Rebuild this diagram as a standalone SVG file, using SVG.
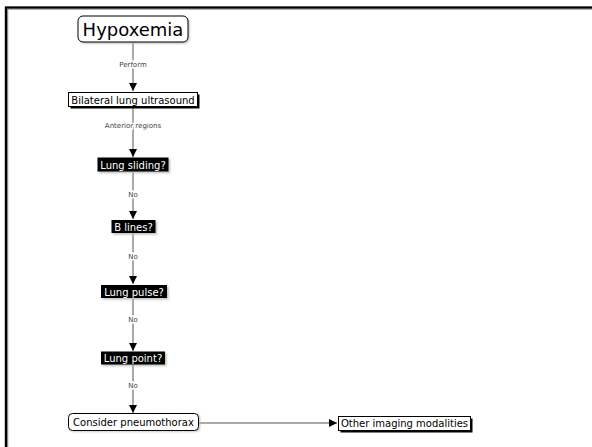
<svg xmlns="http://www.w3.org/2000/svg" width="592" height="447" viewBox="0 0 592 447">
  <style>
    text { font-family: "DejaVu Sans", Verdana, sans-serif; }
    .lbl { font-size: 7px; fill: #444; text-anchor: middle; }
    .halo { stroke: #fff; stroke-width: 3; }
    .edge { stroke: #555; stroke-width: 1; fill: none; }
    .plain { fill: #fff; stroke: #000; stroke-width: 1; }
    .dark { fill: #000; }
    .shadow-dark { fill: #000; }
    .shadow-soft { fill: #bbb; }
    .t-dark { fill: #000; font-size: 10px; text-anchor: middle; }
    .t-light { fill: #fff; font-size: 10px; text-anchor: middle; }
  </style>
  <defs>
    <marker id="arrow" viewBox="0 0 8 8" refX="8" refY="4" markerWidth="8" markerHeight="8" markerUnits="userSpaceOnUse" orient="auto">
      <path d="M0,0 L8,4 L0,8 z" fill="#000"/>
    </marker>
    <filter id="blur" x="-10%" y="-30%" width="120%" height="160%">
      <feGaussianBlur stdDeviation="0.8"/>
    </filter>
  </defs>

  <rect width="592" height="447" fill="#fff"/>
  <!-- page frame -->
  <path d="M6.5,447 V8 H592" fill="none" stroke="#999" stroke-width="3.5"/>
  <path d="M6,447 V7.5 H592" fill="none" stroke="#000" stroke-width="2.2"/>

  <!-- connectors -->
  <g id="connectors">
    <line class="edge" x1="133" y1="42" x2="133" y2="91" marker-end="url(#arrow)"/>
    <text class="lbl halo" x="133" y="67">Perform</text>
    <text class="lbl" x="133" y="67">Perform</text>

    <line class="edge" x1="133" y1="106" x2="133" y2="157" marker-end="url(#arrow)"/>
    <text class="lbl halo" x="133" y="128">Anterior regions</text>
    <text class="lbl" x="133" y="128">Anterior regions</text>

    <line class="edge" x1="133" y1="172" x2="133" y2="219" marker-end="url(#arrow)"/>
    <text class="lbl halo" x="133" y="197">No</text>
    <text class="lbl" x="133" y="197">No</text>

    <line class="edge" x1="133" y1="233" x2="133" y2="284" marker-end="url(#arrow)"/>
    <text class="lbl halo" x="133" y="259">No</text>
    <text class="lbl" x="133" y="259">No</text>

    <line class="edge" x1="133" y1="298" x2="133" y2="351" marker-end="url(#arrow)"/>
    <text class="lbl halo" x="133" y="322">No</text>
    <text class="lbl" x="133" y="322">No</text>

    <line class="edge" x1="133" y1="364" x2="133" y2="413" marker-end="url(#arrow)"/>
    <text class="lbl halo" x="133" y="388">No</text>
    <text class="lbl" x="133" y="388">No</text>

    <line class="edge" x1="198" y1="423" x2="337" y2="423" marker-end="url(#arrow)"/>
  </g>

  <!-- nodes -->
  <g id="hypoxemia">
    <rect x="79.5" y="17.5" width="110" height="26" rx="5" class="shadow-soft" filter="url(#blur)"/>
    <rect x="78" y="16" width="110" height="26" rx="5" class="plain"/>
    <text x="133" y="36" style="font-size:18px; text-anchor:middle; fill:#000">Hypoxemia</text>
  </g>

  <g id="bilateral-lung-ultrasound">
    <rect x="70.5" y="94.5" width="129" height="14" class="shadow-dark"/>
    <rect x="68.5" y="92.5" width="129" height="14" class="plain"/>
    <text x="133" y="103.5" class="t-dark">Bilateral lung ultrasound</text>
  </g>

  <g id="lung-sliding">
    <rect x="99" y="159" width="71" height="14" class="shadow-soft" filter="url(#blur)"/>
    <rect x="97.5" y="157.5" width="71" height="14" class="dark"/>
    <text x="133" y="168.5" class="t-light">Lung sliding?</text>
  </g>

  <g id="b-lines">
    <rect x="113" y="221.5" width="44" height="13" class="shadow-soft" filter="url(#blur)"/>
    <rect x="111.5" y="220" width="44" height="13" class="dark"/>
    <text x="133.5" y="230.5" class="t-light">B lines?</text>
  </g>

  <g id="lung-pulse">
    <rect x="102.5" y="286.5" width="66" height="13" class="shadow-soft" filter="url(#blur)"/>
    <rect x="101" y="285" width="66" height="13" class="dark"/>
    <text x="134" y="295.5" class="t-light">Lung pulse?</text>
  </g>

  <g id="lung-point">
    <rect x="102.5" y="353" width="64" height="13" class="shadow-soft" filter="url(#blur)"/>
    <rect x="101" y="351.5" width="64" height="13" class="dark"/>
    <text x="133" y="362" class="t-light">Lung point?</text>
  </g>

  <g id="consider-pneumothorax">
    <rect x="70" y="414.5" width="130" height="17" rx="4" class="shadow-soft" filter="url(#blur)"/>
    <rect x="68.5" y="413.5" width="130" height="17" rx="4" class="plain"/>
    <text x="133.5" y="425.5" class="t-dark">Consider pneumothorax</text>
  </g>

  <g id="other-imaging-modalities">
    <rect x="340.5" y="418.5" width="132" height="14" class="shadow-dark"/>
    <rect x="338.5" y="416.5" width="132" height="14" class="plain"/>
    <text x="404.5" y="427" class="t-dark">Other imaging modalities</text>
  </g>
</svg>
